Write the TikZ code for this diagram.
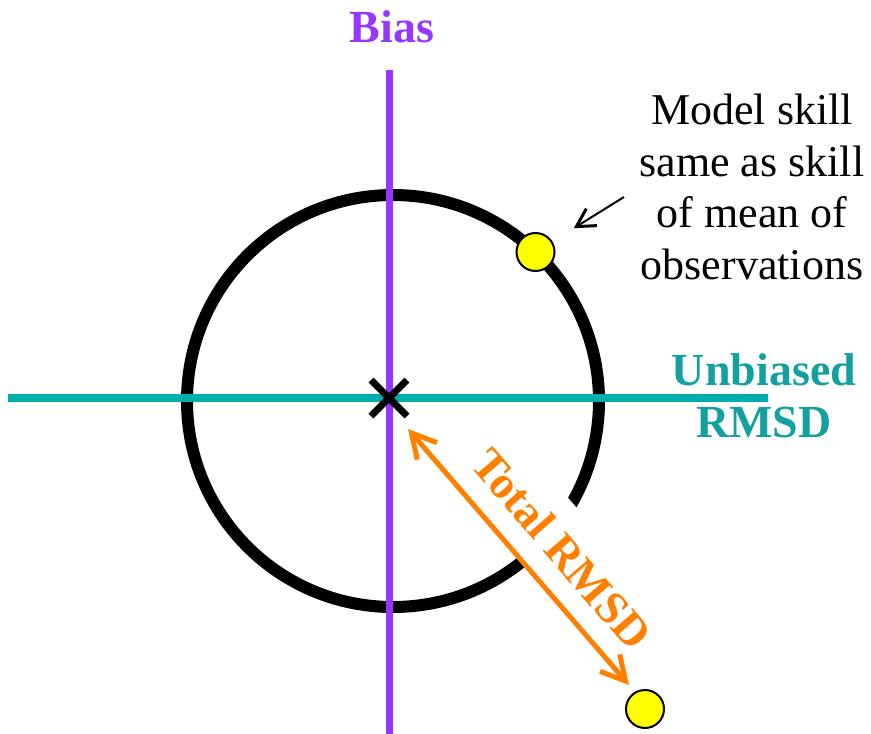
\documentclass[tikz,border=0pt]{standalone}
\usepackage{fontspec}
\setmainfont{Liberation Serif}
\usetikzlibrary{arrows.meta,positioning,calc}
\definecolor{biasviolet}{RGB}{150,55,255}
\definecolor{unbteal}{RGB}{0,172,172}
\definecolor{unbtext}{RGB}{18,160,160}
\definecolor{rmsdorange}{RGB}{255,128,0}
\definecolor{dotyellow}{RGB}{255,255,0}

\begin{document}
\begin{tikzpicture}[x=1pt,y=-1pt,
    biglabel/.style={font=\fontsize{46}{52}\selectfont\bfseries},
    dot/.style={circle,draw=black,line width=2pt,fill=dotyellow,minimum size=38pt,inner sep=0pt}]
  \useasboundingbox (0,0) rectangle (871,734);
  % reference point and axes
  \coordinate (ref) at (389,398);
  \coordinate (biasTop) at (389,70);
  \coordinate (biasBot) at (389,734);
  \coordinate (unbL) at (8,398);
  \coordinate (unbR) at (768,398);
  % circle of equal skill
  \draw[line width=12pt] (393,401) circle[radius=206pt];
  % total RMSD arrow ends
  \coordinate (rmsdA) at (408,429);
  \coordinate (rmsdB) at (629,685);
  \path (rmsdA) -- (rmsdB) node[pos=0.565,sloped,anchor=south,fill=white,minimum height=76pt,
    biglabel,text=rmsdorange] (total) {Total RMSD};
  \draw[biasviolet,line width=7pt] (biasTop) -- (biasBot);
  \draw[unbteal,line width=8pt] (unbL) -- (unbR);
  \draw[line width=7pt] ($(ref)+(-18,-18)$) -- ($(ref)+(18,18)$)
    ($(ref)+(-18,18)$) -- ($(ref)+(18,-18)$);
  \draw[rmsdorange,line width=5pt,{Straight Barb[length=24pt,width=26pt]}-{Straight Barb[length=24pt,width=26pt]}]
    (rmsdA) -- (rmsdB);
  % points
  \node[dot] (skill) at (535.5,252) {};
  \node[dot] (obs) at (645,709) {};
  % labels
  \node[biglabel,text=biasviolet] (bias) at (392,27) {Bias};
  \node[biglabel,text=unbtext,align=center] (unb) at (764,396) {Unbiased\\RMSD};
  \node[align=center,font=\fontsize{44}{51.5}\selectfont] (note) at (752,187)
    {Model skill\\same as skill\\of mean of\\observations};
  \coordinate (noteTail) at (624,197);
  \draw[line width=2pt,-{Straight Barb[length=18pt,width=20pt,line width=3pt]},shorten >=25pt]
    (noteTail) -- (skill);
\end{tikzpicture}
\end{document}
